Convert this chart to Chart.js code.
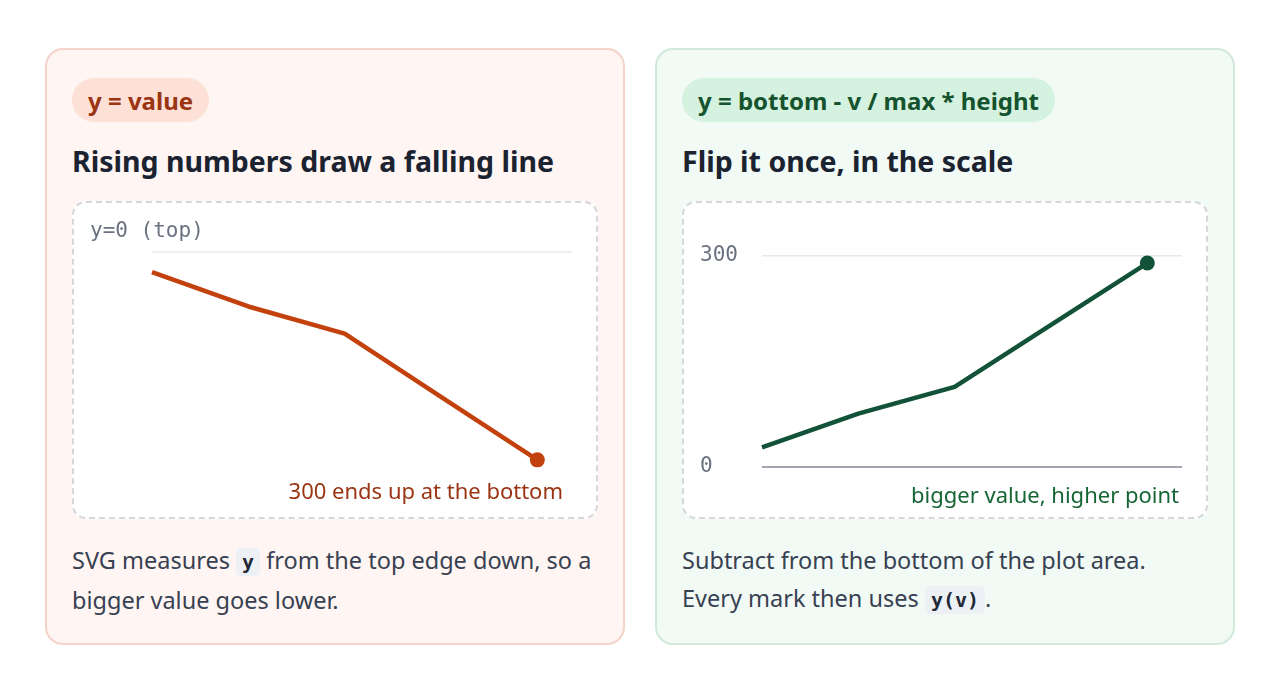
<!DOCTYPE html>
<html>
<head>
<meta charset="utf-8">
<title>Flip the y axis once</title>
<script src="https://cdn.jsdelivr.net/npm/chart.js@4.4.1/dist/chart.umd.min.js"></script>
<style>
  * { box-sizing: border-box; }
  html, body { margin: 0; background: #fff; }
  body { width: 1280px; height: 698px; position: relative; overflow: hidden; font-family: "Noto Sans", sans-serif; }
  .card { position: absolute; top: 48px; width: 580px; height: 597px; border: 2px solid; border-radius: 18px; }
  .card.bad { left: 45px; background: #fff5f2; border-color: #f4d3ca; }
  .card.good { left: 655px; background: #f1faf4; border-color: #d0e9da; }
  .badge { position: absolute; left: 25px; top: 28px; height: 44px; line-height: 45px; padding: 0 16px; border-radius: 22px; font-size: 24px; font-weight: 700; white-space: nowrap; }
  .bad .badge { background: #fde1d6; color: #9a3412; }
  .good .badge { background: #d5f1df; color: #14532d; }
  h2 { position: absolute; left: 25px; top: 92px; margin: 0; font-size: 28.5px; font-weight: 700; line-height: normal; color: #1b2230; white-space: nowrap; }
  .plot { position: absolute; left: 25px; top: 151px; width: 526px; height: 318px; background: #fff; border: 2px dashed #d5d7dc; border-radius: 14px; }
  .plot .wrap { position: absolute; left: 0; top: 0; right: 0; bottom: 0; }
  p { position: absolute; left: 25px; top: 491px; width: 545px; margin: 0; font-size: 23.5px; line-height: 38px; color: #384152; white-space: nowrap; }
  code { font-family: "DejaVu Sans Mono", monospace; font-size: 20px; font-weight: 700; color: #1f2937; background: #edf1f6; padding: 2px 6px; border-radius: 5px; }
</style>
</head>
<body>

<div class="card bad">
  <div class="badge">y = value</div>
  <h2>Rising numbers draw a falling line</h2>
  <div class="plot"><div class="wrap"><canvas id="rawChart"></canvas></div></div>
  <p>SVG measures <code>y</code> from the top edge down, so a<br>bigger value goes lower.</p>
</div>

<div class="card good">
  <div class="badge">y = bottom - v / max * height</div>
  <h2>Flip it once, in the scale</h2>
  <div class="plot"><div class="wrap"><canvas id="flipChart"></canvas></div></div>
  <p>Subtract from the bottom of the plot area.<br>Every mark then uses <code>y(v)</code>.</p>
</div>

<script>
// same five values in both panels, only the y scale direction changes
const steps = [0, 1, 2, 3, 4]
const values = [28, 76, 114, 202, 290]
const yTicks = [0, 300]

const MONO = '"DejaVu Sans Mono", monospace'
const SANS = '"Noto Sans", sans-serif'

// draws the small text notes that sit next to the plot
const notesPlugin = {
  id: 'notes',
  afterDraw(chart, args, opts) {
    const { ctx, chartArea } = chart
    const yScale = chart.scales.y
    ctx.save()
    ;(opts.items || []).forEach(item => {
      ctx.font = item.font
      ctx.fillStyle = item.color
      ctx.textAlign = item.align
      ctx.textBaseline = 'alphabetic'
      const x = item.align === 'right' ? chartArea.right + item.dx : item.dx
      const y = item.value !== undefined
        ? yScale.getPixelForValue(item.value) + item.dy
        : chartArea.bottom + item.dy
      ctx.fillText(item.text, x, y)
    })
    ctx.restore()
  }
}

function points() {
  return steps.map((s, i) => ({ x: s, y: values[i] }))
}

function lastOnly(radius) {
  return ctx => (ctx.dataIndex === values.length - 1 ? radius : 0)
}

function makeChart(id, cfg) {
  const el = document.getElementById(id)
  return new Chart(el, {
    type: 'line',
    data: {
      datasets: [{
        data: points(),
        borderColor: cfg.color,
        backgroundColor: cfg.color,
        borderWidth: 4.5,
        tension: 0,
        pointRadius: lastOnly(7.5),
        pointHoverRadius: lastOnly(7.5),
        pointBorderWidth: 0,
        borderJoinStyle: 'round',
        clip: false
      }]
    },
    options: {
      responsive: true,
      maintainAspectRatio: false,
      animation: false,
      events: [],
      layout: { padding: cfg.padding },
      plugins: {
        legend: { display: false },
        tooltip: { enabled: false },
        notes: { items: cfg.notes }
      },
      scales: {
        x: {
          type: 'linear',
          display: false,
          min: 0,
          max: 4.36
        },
        y: {
          type: 'linear',
          reverse: cfg.reverse,
          min: 0,
          max: 300,
          afterBuildTicks: scale => { scale.ticks = yTicks.map(v => ({ value: v })) },
          afterFit: scale => { scale.width = cfg.axisWidth },
          border: { display: false },
          grid: {
            drawTicks: false,
            color: c => cfg.gridColor(c.tick.value),
            lineWidth: c => (c.tick.value === 0 ? 2 : 1.5)
          },
          ticks: {
            display: cfg.showTicks,
            crossAlign: 'far',
            padding: 0,
            color: '#6b7280',
            font: { family: MONO, size: 21 }
          }
        }
      }
    },
    plugins: [notesPlugin]
  })
}

// left: raw SVG coordinates, 0 sits at the top
makeChart('rawChart', {
  color: '#c2410c',
  reverse: true,
  showTicks: false,
  axisWidth: 0,
  padding: { left: 78, right: 24, top: 49, bottom: 50 },
  gridColor: v => (v === 0 ? '#eceef1' : 'rgba(0,0,0,0)'),
  notes: [
    { text: 'y=0 (top)', font: '21px ' + MONO, color: '#6b7280', align: 'left', dx: 16, value: 0, dy: -15 },
    { text: '300 ends up at the bottom', font: '22px ' + SANS, color: '#9a3412', align: 'right', dx: -9, dy: 31.5 }
  ]
})

// right: flipped scale, 0 at the bottom
makeChart('flipChart', {
  color: '#125238',
  reverse: false,
  showTicks: true,
  axisWidth: 62,
  padding: { left: 16, right: 24, top: 53, bottom: 50 },
  gridColor: v => (v === 0 ? '#a3a3b2' : '#e7e8ec'),
  notes: [
    { text: 'bigger value, higher point', font: '22px ' + SANS, color: '#166534', align: 'right', dx: -3, dy: 35.5 }
  ]
})
</script>
</body>
</html>
